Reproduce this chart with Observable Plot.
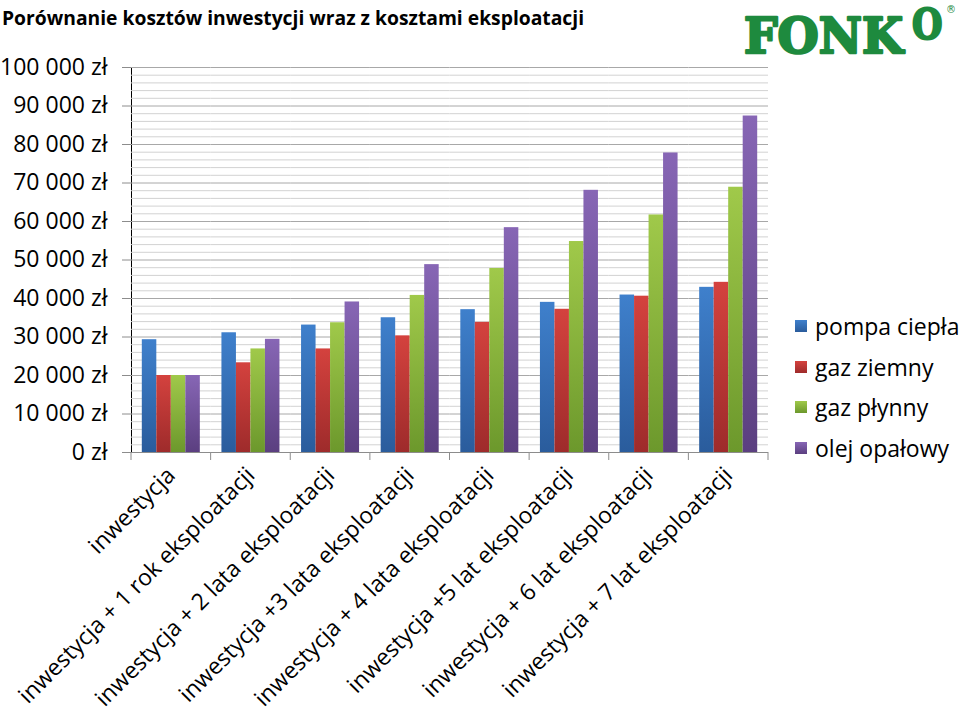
<!DOCTYPE html>
<html>
<head>
<meta charset="utf-8">
<script src="https://cdn.jsdelivr.net/npm/d3@7"></script>
<script src="https://cdn.jsdelivr.net/npm/@observablehq/plot@0.6"></script>
<style>
  body { margin: 0; background: #fff; font-family: "Open Sans", sans-serif; color: #000; }
  #wrap { position: relative; width: 960px; height: 719px; overflow: hidden; background: #fff; }
  #header { position: relative; height: 45px; }
  #title { position: absolute; left: 2px; top: 4px; font-weight: 700; font-size: 19.3px; white-space: nowrap; }
  #logo { position: absolute; left: 740px; top: 0px; }
  #legend { position: absolute; left: 795px; top: 306px; }
  .row { display: flex; align-items: center; height: 40.5px; font-size: 23px; white-space: nowrap; }
  .sw { width: 12px; height: 12px; margin-right: 8px; flex: none; }
  #chart svg { display: block; }
</style>
</head>
<body>
<div id="wrap">
  <div id="header">
    <svg id="logo" width="220" height="70">
      <text x="4" y="53" font-family="DejaVu Serif" font-weight="bold" font-size="48" fill="#1e8a3e" stroke="#1e8a3e" stroke-width="2.5" stroke-linejoin="round" textLength="159" lengthAdjust="spacingAndGlyphs">FONK</text>
      <text transform="translate(172,39) scale(1,1.2)" font-family="DejaVu Serif" font-weight="bold" font-size="35" fill="#1e8a3e" stroke="#1e8a3e" stroke-width="1.8">O</text>
      <text x="206" y="13" font-family="DejaVu Sans" font-size="10" fill="#1e8a3e">®</text>
    </svg>
    <div id="title">Porównanie kosztów inwestycji wraz z kosztami eksploatacji</div>
  </div>
  <div id="chart"></div>
  <div id="legend"></div>
</div>
<script>
const categories = [
  "inwestycja",
  "inwestycja + 1 rok eksploatacji",
  "inwestycja + 2 lata eksploatacji",
  "inwestycja +3 lata eksploatacji",
  "inwestycja + 4 lata eksploatacji",
  "inwestycja +5 lat eksploatacji",
  "inwestycja + 6 lat eksploatacji",
  "inwestycja + 7 lat eksploatacji"
];
const series = ["pompa ciepła", "gaz ziemny", "gaz płynny", "olej opałowy"];
const pompaCiepla = [29300, 31100, 33100, 35000, 37100, 39000, 40900, 42900];
const gazZiemny   = [20000, 23300, 26900, 30300, 33800, 37200, 40600, 44200];
const gazPlynny   = [20000, 26900, 33700, 40800, 47800, 54800, 61700, 68900];
const olejOpalowy = [20000, 29400, 39100, 48800, 58400, 68100, 77800, 87400];
const yTicks = [0, 10000, 20000, 30000, 40000, 50000, 60000, 70000, 80000, 90000, 100000];
const minorStep = 2000;

const seriesValues = [pompaCiepla, gazZiemny, gazPlynny, olejOpalowy];
const seriesTop = ["#3f80cc", "#d4423e", "#a0c94a", "#8766b5"];
const seriesBottom = ["#2a5c9c", "#9e2b2b", "#6c982c", "#5b3f80"];
const gradIds = series.map((s, i) => "grad" + i);

const data = categories.flatMap((c, i) =>
  series.map((s, j) => ({category: c, series: s, value: seriesValues[j][i]}))
);
const minorTicks = d3.range(0, yTicks[yTicks.length - 1] + 1, minorStep).filter(v => v % 10000 !== 0);
const fmt = v => d3.format(",")(v).replace(/,/g, " ") + " zł";

const plot = Plot.plot({
  width: 960,
  height: 674,
  marginTop: 22,
  marginBottom: 267,
  marginLeft: 131,
  marginRight: 192,
  style: {fontFamily: "'Open Sans', sans-serif", fontSize: "23px", color: "#000", background: "transparent", overflow: "visible"},
  facet: {data, x: "category"},
  fx: {domain: categories, padding: 0, round: false, axis: "bottom", tickRotate: -45, tickSize: 0, tickPadding: 19, label: null},
  x: {domain: series, axis: null, round: false, paddingInner: 0, paddingOuter: 0.745},
  y: {domain: [0, 100000], ticks: yTicks, tickFormat: fmt, tickSize: 9, tickPadding: 15, label: null, line: true},
  color: {domain: series, range: gradIds.map(id => `url(#${id})`)},
  marks: [
    Plot.ruleY(minorTicks, {stroke: "#d2d2d2", strokeWidth: 1}),
    Plot.ruleY(yTicks.filter(v => v > 0), {stroke: "#a8a8a8", strokeWidth: 1}),
    Plot.barY(data, {x: "series", y: "value", fill: "series"}),
    Plot.ruleY([0], {stroke: "#8c8c8c", strokeWidth: 1})
  ]
});

const svg = d3.select(plot.tagName.toLowerCase() === "svg" ? plot : plot.querySelector("svg"));
const defs = svg.insert("defs", ":first-child");
gradIds.forEach((id, i) => {
  const g = defs.append("linearGradient").attr("id", id).attr("x1", 0).attr("y1", 0).attr("x2", 0).attr("y2", 1);
  g.append("stop").attr("offset", "0%").attr("stop-color", seriesTop[i]);
  g.append("stop").attr("offset", "100%").attr("stop-color", seriesBottom[i]);
});
// grey axis lines
svg.selectAll('g[aria-label^="y-axis"]').attr("stroke", "#8c8c8c");
svg.selectAll('g[aria-label^="y-axis"] path, g[aria-label^="y-axis"] line').attr("stroke", "#8c8c8c");
svg.selectAll('g[aria-label^="y-axis"] text').attr("stroke", "none");

// category boundary tick marks
const fxS = plot.scale("fx");
const yS = plot.scale("y");
const y0 = yS.apply(0);
const bounds = fxS.domain.map(d => fxS.apply(d));
bounds.push(bounds[bounds.length - 1] + fxS.bandwidth);
svg.append("g").attr("stroke", "#8c8c8c")
  .selectAll("line").data(bounds).join("line")
  .attr("x1", d => d).attr("x2", d => d)
  .attr("y1", y0).attr("y2", y0 + 8);

document.getElementById("chart").appendChild(plot);

const legend = d3.select("#legend");
series.forEach((s, i) => {
  const r = legend.append("div").attr("class", "row");
  r.append("div").attr("class", "sw").style("background", `linear-gradient(${seriesTop[i]}, ${seriesBottom[i]})`);
  r.append("span").text(s);
});
</script>
</body>
</html>
